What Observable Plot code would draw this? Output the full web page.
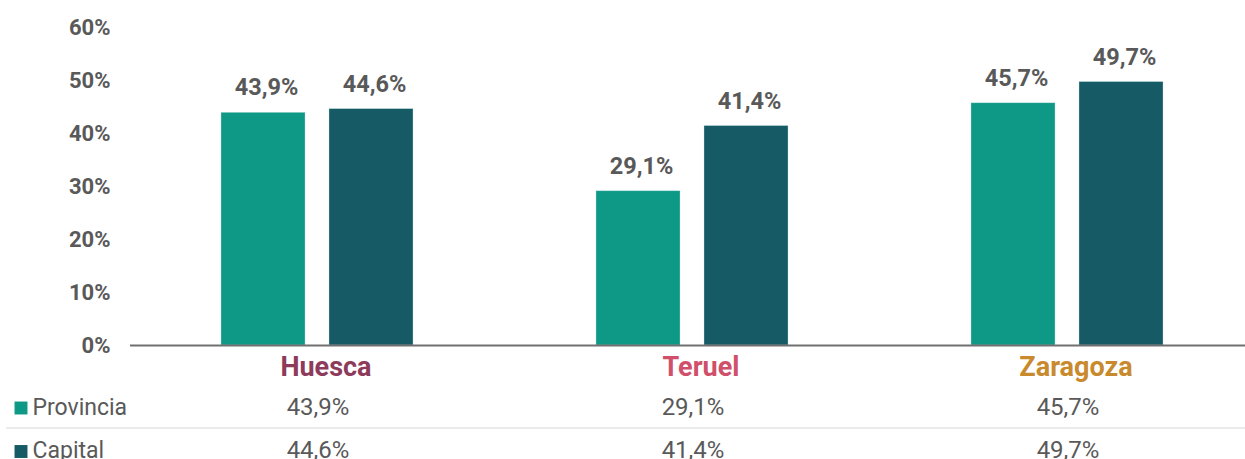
<!DOCTYPE html>
<html><head><meta charset="utf-8">
<script src="https://cdn.jsdelivr.net/npm/d3@7"></script>
<script src="https://cdn.jsdelivr.net/npm/@observablehq/plot@0.6"></script>
<style>
html,body{margin:0;padding:0;background:#fff;overflow:hidden;width:1245px;height:459px}
</style></head><body><div id="chart"></div>
<script>
const regions = ["Huesca", "Teruel", "Zaragoza"];
const regionColors = ["#8e3b5b", "#d04f6a", "#c98a2e"];
const series = ["Provincia", "Capital"];
const seriesColors = ["#0e9886", "#165a66"];
const provincia = [43.9, 29.1, 45.7];
const capital = [44.6, 41.4, 49.7];
const yTicks = [0, 10, 20, 30, 40, 50, 60];

const data = regions.flatMap((r, i) => [
  {region: r, serie: "Provincia", value: provincia[i]},
  {region: r, serie: "Capital", value: capital[i]}
]);
const fmt = v => v.toFixed(1).replace(".", ",") + "%";
const gray = "#595959";
const font = "Roboto, sans-serif";

const chart = Plot.plot({
  width: 1255, height: 459,
  marginLeft: 130, marginRight: 0, marginTop: 27, marginBottom: 114,
  style: {fontFamily: font, background: "#fff", maxWidth: "none", overflow: "visible"},
  fx: {domain: regions, padding: 0, axis: null, label: null},
  x: {domain: series, axis: null, paddingInner: 0.222, paddingOuter: 0.847, label: null},
  y: {domain: [0, 60], axis: null},
  color: {domain: series, range: seriesColors},
  marks: [
    Plot.barY(data, {fx: "region", x: "serie", y: "value", fill: "serie", stroke: "#bfe3de", strokeWidth: 0.6, strokeOpacity: 0.6}),
    Plot.ruleY([0], {stroke: "#707070", strokeWidth: 2}),
    Plot.text(data, {fx: "region", x: "serie", y: "value", text: d => fmt(d.value), dx: 3, dy: -25,
      lineAnchor: "middle", fontWeight: "bold", fontSize: 23.5, fill: gray}),
    Plot.text(yTicks, {fx: () => regions[0], y: d => d, text: d => d + "%", frameAnchor: "left",
      dx: -20, textAnchor: "end", lineAnchor: "middle", fontWeight: "bold", fontSize: 22, fill: gray}),
    ...regions.map((r, i) => Plot.text([r], {fx: d => d, text: d => d, frameAnchor: "bottom", dx: 8, dy: 22,
      lineAnchor: "middle", fontWeight: "bold", fontSize: 27, fill: regionColors[i]})),
    Plot.text(data.filter(d => d.serie === "Provincia"), {fx: "region", text: d => fmt(d.value),
      frameAnchor: "bottom", dy: 62, lineAnchor: "middle", fontSize: 24, fill: gray}),
    Plot.text(data.filter(d => d.serie === "Capital"), {fx: "region", text: d => fmt(d.value),
      frameAnchor: "bottom", dy: 105, lineAnchor: "middle", fontSize: 24, fill: gray}),
    Plot.text([series[0]], {fx: () => regions[0], text: d => d, frameAnchor: "bottom-left",
      dx: -98, dy: 62, textAnchor: "start", lineAnchor: "middle", fontSize: 23, fill: gray}),
    Plot.text([series[1]], {fx: () => regions[0], text: d => d, frameAnchor: "bottom-left",
      dx: -98, dy: 105, textAnchor: "start", lineAnchor: "middle", fontSize: 23, fill: gray}),
    Plot.dot([series[0]], {fx: () => regions[0], fill: d => d, symbol: "square", r: 7.3,
      frameAnchor: "bottom-left", dx: -109.5, dy: 62.5}),
    Plot.dot([series[1]], {fx: () => regions[0], fill: d => d, symbol: "square", r: 7.3,
      frameAnchor: "bottom-left", dx: -109.5, dy: 106})
  ]
});
document.getElementById("chart").append(chart);

// decorative table separator
const y0 = chart.scale("y").apply(0);
d3.select(chart).append("line")
  .attr("x1", 6).attr("x2", 1255)
  .attr("y1", y0 + 83).attr("y2", y0 + 83)
  .attr("stroke", "#ebebeb").attr("stroke-width", 2);
</script></body></html>
